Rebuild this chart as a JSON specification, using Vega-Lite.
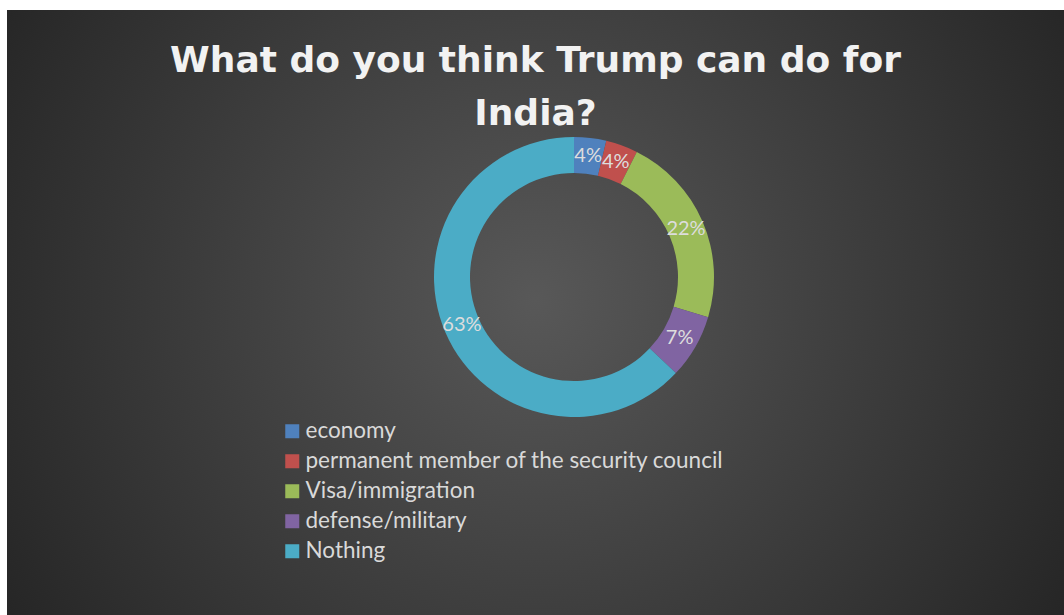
{
  "$schema": "https://vega.github.io/schema/vega-lite/v6.json",
  "width": 1057,
  "height": 605,
  "autosize": "none",
  "padding": {"left": 7, "top": 10, "right": 0, "bottom": 0},
  "background": "#ffffff",
  "title": {
    "text": ["What do you think Trump can do for", "India?"],
    "orient": "top",
    "anchor": "middle",
    "frame": "group",
    "offset": -151,
    "baseline": "alphabetic",
    "lineHeight": 53,
    "font": "DejaVu Sans",
    "fontSize": 36,
    "fontWeight": "bold",
    "color": "#f2f2f2"
  },
  "layer": [
    {
      "data": {"values": [{"panel": "background"}]},
      "mark": {
        "type": "rect",
        "fill": {
          "gradient": "radial",
          "x1": 0.5, "y1": 0.488, "r1": 0,
          "x2": 0.5, "y2": 0.488, "r2": 0.58,
          "stops": [
            {"offset": 0, "color": "#585858"},
            {"offset": 1, "color": "#262626"}
          ]
        },
        "stroke": null
      },
      "encoding": {}
    },
    {
      "data": {
        "values": [
          {"answer": "economy", "count": 1, "share": 0.037, "rank": 1},
          {"answer": "permanent member of the security council", "count": 1, "share": 0.037, "rank": 2},
          {"answer": "Visa/immigration", "count": 6, "share": 0.222, "rank": 3},
          {"answer": "defense/military", "count": 2, "share": 0.074, "rank": 4},
          {"answer": "Nothing", "count": 17, "share": 0.630, "rank": 5}
        ]
      },
      "encoding": {
        "theta": {"field": "count", "type": "quantitative", "stack": true},
        "order": {"field": "rank", "type": "quantitative"}
      },
      "layer": [
        {
          "mark": {"type": "arc", "innerRadius": 104, "outerRadius": 140, "xOffset": 38.5, "yOffset": -35.5, "stroke": null},
          "encoding": {
            "color": {
              "field": "answer",
              "type": "nominal",
              "sort": null,
              "scale": {
                "domain": ["economy", "permanent member of the security council", "Visa/immigration", "defense/military", "Nothing"],
                "range": ["#4f81bd", "#c0504d", "#9bbb59", "#8064a2", "#4bacc6"]
              },
              "legend": {
                "orient": "none",
                "legendX": 274,
                "legendY": 410,
                "title": null,
                "padding": 0,
                "symbolType": "square",
                "symbolSize": 196,
                "symbolStrokeWidth": 0,
                "symbolOpacity": 1,
                "labelFont": "Lato",
                "labelFontSize": 22.5,
                "labelColor": "#d9d9d9",
                "labelOffset": 2,
                "labelLimit": 700,
                "rowPadding": 7
              }
            }
          }
        },
        {
          "mark": {"type": "text", "radius": 122, "xOffset": 38.5, "yOffset": -35.5, "font": "Lato", "fontSize": 20, "color": "#dddddd", "align": "center", "baseline": "middle"},
          "encoding": {
            "text": {"field": "share", "type": "quantitative", "format": ".0%"}
          }
        }
      ]
    }
  ],
  "config": {
    "view": {"stroke": null}
  }
}
